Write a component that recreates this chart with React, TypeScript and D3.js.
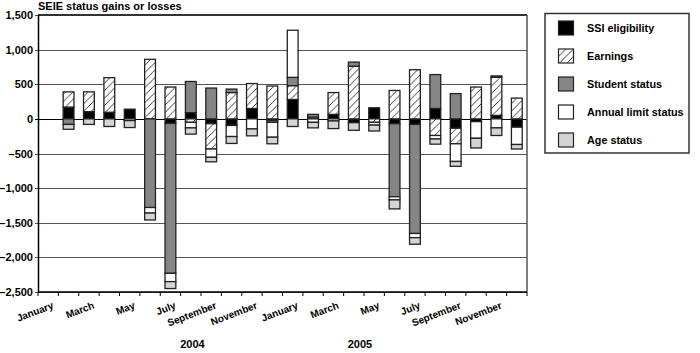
import * as d3 from "d3";

const W = 700;
const H = 353;

const monthNames = ["January", "February", "March", "April", "May", "June", "July", "August", "September", "October", "November", "December"];
const years = ["2004", "2005"];
const categories = years.flatMap((y) => monthNames.map((m) => `${m} ${y}`));

const keys = ["ssi", "earnings", "student", "annual", "age"];
const labels = ["SSI eligibility", "Earnings", "Student status", "Annual limit status", "Age status"];

// Jan 2004 .. Dec 2005
const ssi = [0, 170, 105, 95, 140, 0, -65, 90, -70, -95, 150, -20, 280, 0, 65, -55, 160, -70, -80, 150, -135, -40, 50, -120];
const earnings = [0, 220, 285, 500, 0, 860, 460, -50, -365, 380, 360, 475, 200, 25, 315, 760, -50, 410, 710, -240, -225, 460, 550, 300];
const student = [0, -80, 0, 0, 0, -1280, -2165, 450, 445, 50, 0, -30, 120, 40, 0, 60, 0, -1055, -1575, 490, 365, 0, 20, 0];
const annual = [0, 0, 0, 0, -25, -80, -120, -80, -120, -160, -145, -215, 680, -50, -30, 0, -40, -45, -60, -50, -255, -240, -130, -250];
const age = [0, -70, -80, -110, -100, -100, -100, -90, -65, -100, -100, -95, -110, -80, -110, -110, -85, -130, -95, -75, -70, -140, -110, -65];

const yTicks = [1500, 1000, 500, 0, -500, -1000, -1500, -2000, -2500];

const fills: Record<string, string> = {
  ssi: "#000",
  earnings: "url(#hatch)",
  student: "#858585",
  annual: "#fff",
  age: "#d4d4d4",
};

const font = "'Liberation Sans', Arial, sans-serif";

export default function App() {
  const m = { left: 38, right: 527, top: 15, bottom: 292 };

  const rows = categories.map((c, i) => ({
    cat: c,
    ssi: ssi[i],
    earnings: earnings[i],
    student: student[i],
    annual: annual[i],
    age: age[i],
  }));

  const series = d3.stack<any>().keys(keys).offset(d3.stackOffsetDiverging)(rows);

  const x = d3.scaleBand().domain(categories).range([m.left, m.right]).paddingInner(0.47).paddingOuter(0.235);
  const xb = d3.scaleBand().domain(categories).range([m.left, m.right]);
  const y = d3.scaleLinear().domain([-2500, 1500]).range([m.bottom, m.top]);

  const fmt = (v: number) => (v < 0 ? "–" : "") + d3.format(",")(Math.abs(v));

  return (
    <svg width={W} height={H} style={{ position: "absolute", left: 0, top: 0, background: "#fff" }} fontFamily={font}>
      <defs>
        <pattern id="hatch" patternUnits="userSpaceOnUse" width={7.5} height={7.5}>
          <rect width={7.5} height={7.5} fill="#fff" />
          <path d="M-1,8.5 L8.5,-1 M-2,2 L2,-2 M5.5,9.5 L9.5,5.5" stroke="#222" strokeWidth={0.9} />
        </pattern>
      </defs>

      <text x={m.left} y={9.5} fontSize={11} fontWeight="bold">SEIE status gains or losses</text>

      {/* grid */}
      {yTicks.map((t) => (
        <g key={t}>
          <line x1={m.left - 3} x2={m.right} y1={Math.round(y(t)) + 0.5} y2={Math.round(y(t)) + 0.5} stroke={t === 0 ? "#000" : "#555"} strokeWidth={1} />
          <text x={m.left - 5} y={y(t) + 4} textAnchor="end" fontSize={11} fontWeight="bold">{fmt(t)}</text>
        </g>
      ))}

      {/* bars */}
      {series.map((s) => (
        <g key={s.key} fill={fills[s.key]}>
          {s.map((d, i) =>
            d[1] - d[0] === 0 ? null : (
              <rect
                key={i}
                x={x(categories[i])}
                width={x.bandwidth()}
                y={y(d[1])}
                height={y(d[0]) - y(d[1])}
                stroke="#222"
                strokeWidth={1.3}
              />
            )
          )}
        </g>
      ))}

      {/* frame */}
      <line x1={m.left} x2={m.right} y1={m.top} y2={m.top} stroke="#333" strokeWidth={2} />
      <line x1={m.right} x2={m.right} y1={m.top} y2={m.bottom} stroke="#555" strokeWidth={1.5} />
      <line x1={m.left + 0.5} x2={m.left + 0.5} y1={m.top} y2={m.bottom + 1} stroke="#000" strokeWidth={1.5} />
      <line x1={m.left} x2={m.right} y1={m.bottom} y2={m.bottom} stroke="#000" strokeWidth={1.5} />
      {categories.map((c) => (
        <line key={c} x1={xb(c)!} x2={xb(c)!} y1={m.bottom} y2={m.bottom + 4} stroke="#000" strokeWidth={1} />
      ))}
      <line x1={m.right} x2={m.right} y1={m.bottom} y2={m.bottom + 4} stroke="#000" strokeWidth={1} />

      {/* month labels */}
      {categories.map((c, i) => {
        if (i % 2 !== 0) return null;
        const cx = xb(c)! + xb.bandwidth() / 2 + 6;
        const cy = 308;
        return (
          <text key={c} transform={`translate(${cx},${cy}) rotate(-21)`} textAnchor="end" fontSize={10} fontWeight="bold">
            {c.split(" ")[0]}
          </text>
        );
      })}
      <text x={192.5} y={348} textAnchor="middle" fontSize={11} fontWeight="bold">2004</text>
      <text x={360} y={348} textAnchor="middle" fontSize={11} fontWeight="bold">2005</text>

      {/* legend */}
      <rect x={545} y={13.5} width={144} height={139.5} fill="#fff" stroke="#333" strokeWidth={1.5} />
      {keys.map((k, i) => {
        const cy = 28 + i * 28;
        return (
          <g key={k}>
            <rect x={558.5} y={cy - 7} width={15} height={14} fill={fills[k]} stroke="#222" strokeWidth={1.2} />
            <text x={587} y={cy + 4} fontSize={10.8} fontWeight="bold">{labels[i]}</text>
          </g>
        );
      })}
    </svg>
  );
}
